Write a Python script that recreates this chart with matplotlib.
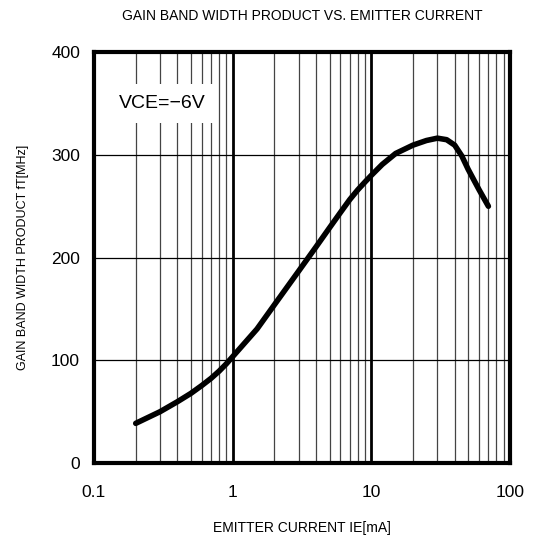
import numpy as np
import matplotlib
matplotlib.use('Agg')
import matplotlib.pyplot as plt
from matplotlib.ticker import FixedLocator, NullFormatter

plt.rcParams['font.family'] = ['Liberation Sans', 'DejaVu Sans']

# emitter current IE [mA] and gain band width product fT [MHz]
ie_ma = [0.2, 0.3, 0.4, 0.5, 0.6, 0.7, 0.8, 0.9, 1, 1.5, 2, 3, 4, 5, 6, 7, 8, 9,
         10, 12, 15, 20, 25, 30, 35, 40, 45, 50, 60, 70]
ft_mhz = [38.6, 50, 59.7, 67.8, 75.5, 82.5, 89.5, 96.5, 103.5, 130.5, 154, 187,
          210.5, 229, 244, 256.5, 266, 273.5, 280, 290.7, 301.4, 309.5, 314, 316.3,
          314.8, 309.5, 299, 286, 266, 250]

x_ticks = [0.1, 1, 10, 100]
x_labels = ['0.1', '1', '10', '100']
y_ticks = [0, 100, 200, 300, 400]

fig = plt.figure(figsize=(5.38, 5.37), dpi=100)
ax = fig.add_axes([0.1747, 0.1378, 0.773, 0.765])

ax.set_xscale('log')
ax.set_xlim(0.1, 100)
ax.set_ylim(0, 400)

# grid: thin minor decade lines, thick decade lines, thin horizontal lines
minor = [m * d for d in (0.1, 1, 10) for m in range(2, 10)]
for x in minor:
    ax.axvline(x, color='#444444', lw=0.9, zorder=1)
for x in (1, 10):
    ax.axvline(x, color='black', lw=2.0, zorder=1)
for y in (100, 200, 300):
    ax.axhline(y, color='black', lw=0.9, zorder=1)

ax.plot(ie_ma, ft_mhz, color='black', lw=4, solid_capstyle='round',
        solid_joinstyle='round', zorder=3)

ax.text(0.31, 350, 'VCE=−6V', fontsize=14, ha='center', va='center',
        bbox=dict(facecolor='white', edgecolor='none', pad=8), zorder=2)

ax.xaxis.set_major_locator(FixedLocator(x_ticks))
ax.xaxis.set_minor_formatter(NullFormatter())
ax.set_xticks(x_ticks)
ax.set_xticklabels(x_labels)
ax.set_yticks(y_ticks)
ax.tick_params(axis='both', which='both', length=0, labelsize=12.5, pad=10)
ax.tick_params(axis='x', pad=16)

for s in ax.spines.values():
    s.set_linewidth(3)

ax.set_xlabel('EMITTER CURRENT IE[mA]', fontsize=10, labelpad=15)
ax.set_ylabel('GAIN BAND WIDTH PRODUCT fT[MHz]', fontsize=9, labelpad=16)
ax.set_title('GAIN BAND WIDTH PRODUCT VS. EMITTER CURRENT', fontsize=10, pad=23)

fig.savefig('out.png', dpi=100)
